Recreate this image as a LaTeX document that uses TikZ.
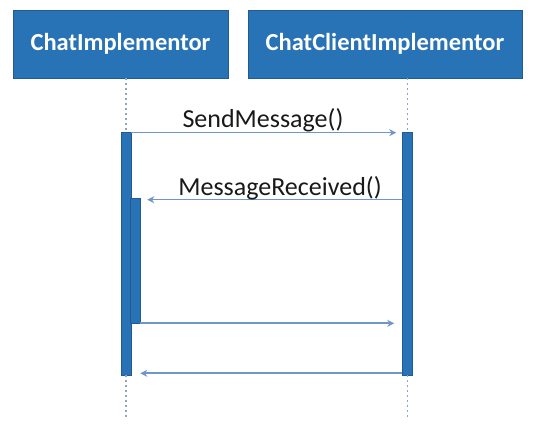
\documentclass[tikz,border=0pt]{standalone}
\usepackage{fontspec}
\setmainfont{Carlito}
\usetikzlibrary{arrows.meta}
\definecolor{boxblue}{RGB}{40,114,182}
\definecolor{msgline}{RGB}{110,150,200}
\definecolor{lifeclr}{RGB}{140,165,200}
\tikzset{
  objbox/.style={draw=boxblue!80!black, line width=0.6pt, fill=boxblue, text=white, font=\fontsize{24.5}{27}\selectfont\bfseries, inner sep=0pt, minimum height=68pt},
  actbar/.style={draw=boxblue!80!black, line width=0.6pt, fill=boxblue, inner sep=0pt, minimum width=10pt},
  msg/.style={draw=msgline, line width=1.6pt, -{Stealth[length=7pt,width=7pt]}},
  life/.style={draw=lifeclr, line width=1.3pt, dash pattern=on 2pt off 3pt},
  lbl/.style={font=\fontsize{26}{29}\selectfont, text=black!90, inner sep=0pt, anchor=base}
}
\begin{document}
\begin{tikzpicture}[x=1pt,y=-1pt]
\useasboundingbox (0,0) rectangle (550,427);
\node[objbox, minimum width=215pt] (ci) at (120.5,44) {ChatImplementor};
\node[objbox, minimum width=274pt] (cci) at (385,44) {ChatClientImplementor};
\node[actbar, minimum height=243pt] (bar1) at (126,253.5) {};
\node[actbar, minimum height=243pt] (bar2) at (407.5,253.5) {};
\node[actbar, minimum height=125pt] (nest) at (135,260.5) {};
\coordinate (end1) at (126,420);
\coordinate (end2) at (407.5,420);
\draw[life] (ci.south -| bar1.north) -- (bar1.north);
\draw[life] (cci.south -| bar2.north) -- (bar2.north);
\draw[life] (bar1.south) -- (end1);
\draw[life] (bar2.south) -- (end2);
\draw[msg, shorten >=6pt] ([yshift=-1pt]bar1.north east) -- ([yshift=-1pt]bar1.north east -| bar2.west);
\node[lbl] at (263,128) {SendMessage()};
\draw[msg, shorten >=7pt] ([yshift=-2pt]bar2.west |- nest.north) -- ([yshift=-2pt]nest.north east);
\node[lbl] at (280,196) {MessageReceived()};
\draw[msg, shorten >=8pt] (nest.south east) -- (nest.south east -| bar2.west);
\draw[msg, shorten >=9pt] ([yshift=2pt]bar2.south west) -- ([yshift=2pt]bar2.south west -| bar1.east);
\end{tikzpicture}
\end{document}
